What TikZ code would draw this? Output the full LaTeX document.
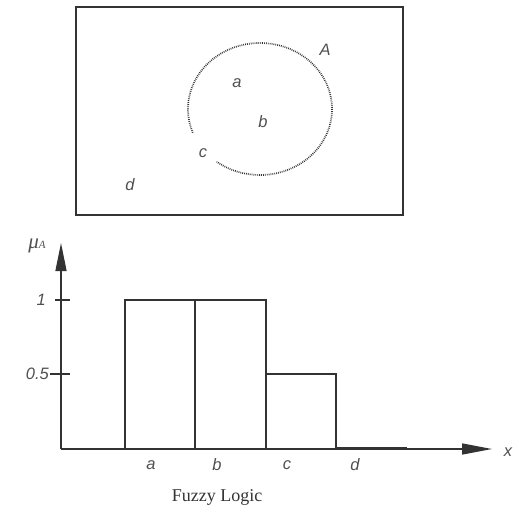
\documentclass[tikz,border=0pt]{standalone}
\usepackage{fontspec}
\setmainfont{Liberation Serif}
\newfontfamily\labfont{Liberation Sans}
\usetikzlibrary{arrows.meta}
\definecolor{ink}{HTML}{333333}
\definecolor{txt}{HTML}{505050}
\tikzset{
  lbl/.style={text=txt,font=\labfont\itshape\fontsize{16.5}{16.5}\selectfont,inner sep=0pt},
  axis/.style={draw=ink,line width=1.4pt},
  bar/.style={draw=ink,line width=2.7pt,line join=miter},
  tick/.style={draw=ink,line width=1.4pt},
}
\begin{document}
\begin{tikzpicture}[x=1pt,y=-1pt]
\useasboundingbox (0,0) rectangle (519,516);
% Venn-like box
\node[draw=ink,line width=1.8pt,minimum width=327pt,minimum height=208pt,inner sep=0pt,anchor=north west] (frame) at (75,6) {};
\coordinate (cen) at (260,109);
\draw[ink,line width=1.7pt,dash pattern=on 0.8pt off 1.1pt] ([shift={(159:72 and 66)}]cen) arc[start angle=159,end angle=487,x radius=72,y radius=66];
\node[lbl] (A) at (325,50) {A};
\node[lbl] (pa) at (237,83) {a};
\node[lbl] (pb) at (263,122) {b};
\node[lbl] (pc) at (203,153) {c};
\node[lbl] (pd) at (130,185) {d};
% axes
\coordinate (O) at (61,449);
\coordinate (ytop) at (61,243);
\coordinate (xend) at (492,449);
\draw[axis,-{Triangle[length=28pt,width=11pt]}] (O) -- (ytop);
\draw[axis,-{Triangle[length=30pt,width=11pt]}] (O) -- (xend);
\coordinate (t1a) at (55,300); \coordinate (t1b) at (70,300);
\coordinate (t5a) at (50,374); \coordinate (t5b) at (70,374);
\draw[tick] (t1a) -- (t1b);
\draw[tick] (t5a) -- (t5b);
\node[lbl,anchor=east] (one) at (46,300) {1};
\node[lbl,anchor=east] (half) at (49,374) {0.5};
\node[text=txt,inner sep=0pt,font=\itshape\fontsize{21}{21}\selectfont] (mu) at (37,246) {μ\raisebox{0.5pt}{\fontsize{11}{11}\selectfont A}};
\node[lbl] (xl) at (508,452) {x};
% bars
\draw[bar] (125,449) -- (125,300) -- (266,300) -- (266,449);
\draw[bar] (195,449) -- (195,300);
\draw[bar] (266,374) -- (336,374) -- (336,448) -- (407,448);
% x labels
\node[lbl] (xa) at (151,465) {a};
\node[lbl] (xb) at (217,465) {b};
\node[lbl] (xc) at (287,465) {c};
\node[lbl] (xd) at (355,465) {d};
\node[text=ink,font=\fontsize{18}{18}\selectfont,inner sep=0pt] (title) at (217,497) {Fuzzy Logic};
\end{tikzpicture}
\end{document}
